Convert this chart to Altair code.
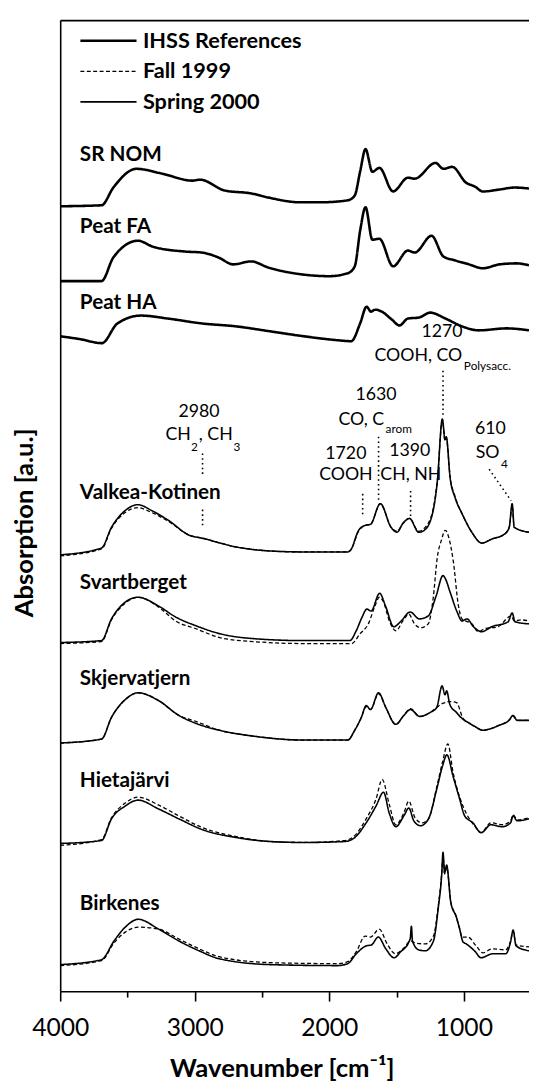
import altair as alt
import pandas as pd

# ---------------- data ----------------
X_DOMAIN = [516, 4000]          # wavenumber range shown (cm^-1)
Y_DOMAIN = [0, 986]             # stacked absorption, arbitrary units

series_names = ["IHSS References", "Fall 1999", "Spring 2000"]

sample_names = ["SR NOM", "Peat FA", "Peat HA", "Valkea-Kotinen",
                "Svartberget", "Skjervatjern", "Hietajärvi", "Birkenes"]
sample_offsets = [797, 721, 658, 443, 353, 252, 150, 27]
label_y = [843, 770, 693, 500, 408, 311, 207, 82]
label_wn = 3854

# IHSS references
srnom_wn = [4000, 3693, 3605, 3434, 3239, 3019, 2961, 2778, 2580, 2458, 2214, 2068, 1863, 1811, 1770,
            1731, 1680, 1628, 1526, 1416, 1365, 1211, 1152, 1087, 984, 918, 860, 735, 625, 516]
srnom_val = [0, 1, 19, 38, 33, 26, 27, 16, 13, 9, 4, 4, 6, 11, 36,
             58, 35, 39, 15, 29, 28, 44, 38, 40, 24, 20, 15, 17, 19, 18]

peatfa_wn = [4000, 3693, 3605, 3422, 3312, 3070, 2946, 2824, 2714, 2580, 2458, 2214, 2000, 1863, 1811,
             1770, 1731, 1680, 1628, 1526, 1416, 1365, 1240, 1152, 1065, 962, 860, 735, 610, 516]
peatfa_val = [0, 0, 24, 41, 35, 30, 29, 24, 17, 20, 14, 7, 5, 8, 15,
              52, 75, 42, 43, 15, 31, 29, 46, 25, 21, 17, 13, 17, 18, 16]

peatha_wn = [4000, 3850, 3690, 3575, 3400, 3200, 2946, 2690, 2440, 2190, 1940, 1837, 1771, 1723,
             1690, 1660, 1610, 1536, 1478, 1416, 1335, 1250, 1137, 1013, 889, 684, 516]
peatha_val = [7, 4, 0, 20, 28, 25, 20, 17, 12, 7, 3, 2, 20, 37,
              32, 34, 32, 24, 18, 25, 26, 31, 25, 17, 13, 15, 13]

# Valkea-Kotinen
valk_wn = [4000, 3693, 3619, 3517, 3422, 3320, 3195, 3041, 2946, 2690, 2440, 2190, 1863, 1841,
           1782, 1733, 1694, 1621, 1541, 1497, 1453, 1404, 1336, 1294, 1233, 1197, 1160, 1140,
           1131, 1102, 1065, 1014, 941, 867, 794, 699, 663, 641, 626, 516]
valk_spring = [0, 7, 28, 45, 51, 45, 35, 20, 17, 8, 4, 3, 3, 5,
               25, 30, 31, 52, 28, 23, 32, 37, 23, 25, 42, 75, 138, 117,
               120, 78, 58, 42, 23, 12, 16, 21, 28, 52, 28, 23]
valk_fall = [-1, 6, 27, 43, 48, 43, 34, 20, 17, 8, 4, 3, 3, 5,
             24, 30, 31, 52, 28, 24, 32, 37, 24, 27, 44, 76, 137, 116,
             119, 79, 59, 42, 23, 12, 16, 21, 28, 50, 28, 23]

# Svartberget
svart_spring_wn = [4000, 3693, 3619, 3517, 3422, 3268, 3143, 2990, 2814, 2565, 2190, 1848, 1800,
                   1756, 1721, 1690, 1626, 1582, 1521, 1472, 1399, 1331, 1265, 1207, 1155, 1138,
                   1102, 1050, 1014, 977, 928, 867, 794, 672, 641, 619, 516]
svart_spring = [1, 3, 25, 42, 47, 38, 27, 18, 10, 5, 3, 3, 13,
                27, 35, 33, 51, 38, 17, 22, 32, 25, 28, 48, 69, 66,
                52, 32, 23, 25, 17, 12, 17, 22, 31, 22, 20]
svart_fall_wn = [4000, 3693, 3619, 3517, 3422, 3268, 3143, 2990, 2814, 2565, 2190, 1834, 1771,
                 1710, 1661, 1629, 1600, 1551, 1505, 1453, 1409, 1367, 1321, 1265, 1229, 1197,
                 1167, 1138, 1109, 1080, 1040, 1014, 941, 892, 848, 748, 648, 626, 575, 516]
svart_fall = [0, 2, 24, 41, 47, 37, 23, 15, 6, 2, 0, 0, 10,
              20, 38, 47, 43, 22, 13, 23, 30, 20, 16, 20, 45, 88,
              105, 115, 106, 85, 38, 25, 20, 12, 15, 17, 28, 23, 24, 23]

# Skjervatjern
skj_wn = [4000, 3693, 3619, 3517, 3422, 3268, 3118, 2993, 2818, 2565, 2190, 1863, 1811, 1762,
          1726, 1694, 1634, 1580, 1506, 1446, 1397, 1329, 1251, 1202, 1162, 1140, 1128, 1104,
          1055, 1006, 970, 921, 860, 738, 665, 634, 604, 516]
skj_spring = [0, 4, 26, 44, 51, 43, 28, 20, 13, 7, 3, 3, 13, 26,
              38, 34, 51, 36, 19, 28, 34, 27, 31, 36, 58, 49, 53, 39,
              31, 24, 21, 17, 13, 18, 23, 28, 23, 23]
skj_fall = [0, 4, 26, 44, 51, 43, 28, 22, 13, 7, 3, 3, 13, 26,
            37, 34, 50, 36, 19, 28, 35, 27, 31, 36, 40, 41, 42, 42,
            41, 25, 21, 17, 13, 18, 23, 27, 23, 23]

# Hietajärvi
hie_spring_wn = [4000, 3693, 3619, 3517, 3422, 3268, 3118, 2942, 2690, 2440, 2190, 1885, 1811,
                 1726, 1653, 1597, 1555, 1506, 1446, 1409, 1372, 1323, 1263, 1202, 1160, 1126,
                 1080, 1031, 994, 933, 872, 799, 714, 653, 634, 604, 516]
hie_spring = [0, 3, 25, 38, 44, 35, 25, 14, 6, 2, 1, 2, 6,
              21, 38, 52, 31, 17, 28, 36, 23, 18, 25, 55, 78, 90,
              68, 45, 28, 21, 11, 19, 17, 21, 28, 23, 25]
hie_fall_wn = [4000, 3693, 3619, 3517, 3422, 3268, 3118, 2942, 2690, 2440, 2190, 1885, 1811,
               1726, 1653, 1607, 1555, 1506, 1446, 1409, 1363, 1314, 1263, 1202, 1160, 1119,
               1080, 1031, 980, 921, 872, 799, 714, 653, 634, 604, 516]
hie_fall = [-2, 4, 26, 41, 47, 39, 28, 16, 7, 2, 1, 3, 8,
            25, 45, 65, 40, 19, 31, 43, 26, 21, 25, 57, 82, 101,
            72, 47, 30, 18, 11, 21, 19, 23, 29, 24, 26]

# Birkenes
birk_spring_wn = [4000, 3693, 3600, 3517, 3420, 3268, 3118, 2968, 2818, 2440, 1940, 1863, 1800,
                  1726, 1687, 1636, 1580, 1519, 1470, 1409, 1398, 1390, 1382, 1336, 1287, 1226,
                  1190, 1165, 1155, 1143, 1128, 1097, 1055, 1031, 1006, 982, 921, 872, 787, 689,
                  653, 634, 612, 516]
birk_spring = [0, 5, 24, 38, 46, 36, 24, 14, 6, 0, -1, 1, 11,
               19, 20, 28, 16, 7, 13, 23, 27, 39, 24, 15, 14, 24,
               58, 91, 114, 93, 101, 63, 48, 36, 23, 21, 14, 7, 11, 11,
               23, 35, 19, 14]
birk_fall_wn = [4000, 3693, 3600, 3517, 3420, 3268, 3118, 2968, 2818, 2440, 1940, 1863, 1800,
                1733, 1694, 1629, 1570, 1509, 1446, 1397, 1360, 1287, 1226, 1190, 1165, 1155,
                1143, 1128, 1097, 1060, 1031, 1015, 970, 909, 860, 787, 689, 653, 634, 612, 516]
birk_fall = [-1, 4, 22, 33, 38, 36, 26, 16, 8, 2, 1, 3, 13,
             29, 28, 36, 21, 11, 17, 24, 22, 21, 29, 60, 92, 110,
             92, 99, 64, 50, 36, 28, 28, 19, 12, 16, 15, 24, 34, 20, 18]

# band annotations (wavenumber, a.u.)
ann_center_text = ["2980", "1720", "COOH", "1630", "1390", "CH, NH", "1270", "610"]
ann_center_wn = [2968, 1877, 1877, 1653, 1402, 1394, 1163, 803]
ann_center_y = [588, 545, 524, 605, 548, 524, 669, 571]

ann_right_text = ["CO, C", "COOH, CO"]
ann_right_wn = [1592, 1012]
ann_right_y = [580, 645]

ann_left_text = ["CH", ", CH", "SO"]
ann_left_wn = [3218, 2970, 912]
ann_left_y = [565, 565, 546]

ann_sub_text = ["2", "3", "arom", "Polysacc.", "4"]
ann_sub_wn = [3027, 2712, 1582, 1000, 724]
ann_sub_y = [553, 552, 571, 635, 535]

mark_wn1 = [2942, 2942, 1752, 1634, 1396, 1155, 812]
mark_wn2 = [2942, 2942, 1752, 1634, 1396, 1155, 649]
mark_y1 = [546, 489, 505, 563, 508, 630, 530]
mark_y2 = [523, 471, 481, 496, 481, 585, 498]

# ---------------- tables ----------------
spectra = [
    ("SR NOM", "IHSS References", srnom_wn, srnom_val),
    ("Peat FA", "IHSS References", peatfa_wn, peatfa_val),
    ("Peat HA", "IHSS References", peatha_wn, peatha_val),
    ("Valkea-Kotinen", "Fall 1999", valk_wn, valk_fall),
    ("Valkea-Kotinen", "Spring 2000", valk_wn, valk_spring),
    ("Svartberget", "Fall 1999", svart_fall_wn, svart_fall),
    ("Svartberget", "Spring 2000", svart_spring_wn, svart_spring),
    ("Skjervatjern", "Fall 1999", skj_wn, skj_fall),
    ("Skjervatjern", "Spring 2000", skj_wn, skj_spring),
    ("Hietajärvi", "Fall 1999", hie_fall_wn, hie_fall),
    ("Hietajärvi", "Spring 2000", hie_spring_wn, hie_spring),
    ("Birkenes", "Fall 1999", birk_fall_wn, birk_fall),
    ("Birkenes", "Spring 2000", birk_spring_wn, birk_spring),
]
offset_of = dict(zip(sample_names, sample_offsets))
rows = []
for k, (sample, series, wn, val) in enumerate(spectra):
    for w, v in zip(wn, val):
        rows.append({"trace": f"{k:02d} {sample} {series}", "sample": sample,
                     "series": series, "wn": w, "a": offset_of[sample] + v})
df = pd.DataFrame(rows)

labels_df = pd.DataFrame({"name": sample_names, "wn": [label_wn] * len(sample_names), "y": label_y})
center_df = pd.DataFrame({"t": ann_center_text, "wn": ann_center_wn, "y": ann_center_y})
right_df = pd.DataFrame({"t": ann_right_text, "wn": ann_right_wn, "y": ann_right_y})
left_df = pd.DataFrame({"t": ann_left_text, "wn": ann_left_wn, "y": ann_left_y})
sub_df = pd.DataFrame({"t": ann_sub_text, "wn": ann_sub_wn, "y": ann_sub_y})
marks_df = pd.DataFrame({"w1": mark_wn1, "w2": mark_wn2, "y1": mark_y1, "y2": mark_y2})

# ---------------- chart ----------------
FONT = "Lato"
xscale = alt.Scale(domain=X_DOMAIN, reverse=True, nice=False, zero=False)
yscale = alt.Scale(domain=Y_DOMAIN, nice=False, zero=False)

yaxis = alt.Axis(title="Absorption [a.u.]", labels=False, ticks=False, grid=False,
                 domainColor="black", domainWidth=1.6,
                 titleFont=FONT, titleFontSize=26, titleFontWeight="bold", titleColor="black",
                 titleAngle=270, titleX=-36, titleY=510, titleBaseline="middle", titleAlign="center")

xaxis = alt.Axis(title="Wavenumber [cm⁻¹]", values=[4000, 3500, 3000, 2500, 2000, 1500, 1000],
                 format="d", labelExpr="datum.value % 1000 === 0 ? datum.label : ''",
                 grid=False, domainColor="black", domainWidth=1.6,
                 tickColor="black", tickWidth=1.6,
                 tickSize={"condition": {"test": "datum.value % 1000 === 0", "value": 10}, "value": 6},
                 labelFont=FONT, labelFontSize=25, labelColor="black", labelPadding=15,
                 labelFlush=False, labelOverlap=False,
                 titleFont=FONT, titleFontSize=26, titleFontWeight="bold", titleColor="black",
                 titleX=225, titleY=87, titleBaseline="alphabetic", titleAlign="center")

topaxis = alt.Axis(orient="top", labels=False, ticks=False, title=None, grid=False,
                   domainColor="black", domainWidth=1.6)

legend = alt.Legend(title=None, orient="none", legendX=19, legendY=8, direction="vertical",
                    symbolType="stroke", symbolSize=3249, symbolStrokeColor="black",
                    clipHeight=26, rowPadding=5, labelOffset=5, padding=0, labelLimit=400,
                    labelFont=FONT, labelFontSize=22, labelFontWeight="bold", labelColor="black")

lines = alt.Chart(df).mark_line(color="black", interpolate="monotone", strokeJoin="round").encode(
    x=alt.X("wn:Q", scale=xscale, axis=xaxis),
    y=alt.Y("a:Q", scale=yscale, axis=yaxis),
    detail="trace:N",
    strokeDash=alt.StrokeDash("series:N", legend=legend,
                              scale=alt.Scale(domain=series_names, range=[[1, 0], [4, 2.5], [1, 0]])),
    strokeWidth=alt.StrokeWidth("series:N", legend=legend,
                                scale=alt.Scale(type="ordinal", domain=series_names, range=[2.6, 1.3, 1.6])),
)

rules = alt.Chart(marks_df).mark_rule(color="black", strokeDash=[1.6, 3.2], strokeWidth=1.6).encode(
    x=alt.X("w1:Q", scale=xscale, axis=topaxis),
    x2="w2:Q",
    y=alt.Y("y1:Q", scale=yscale, axis=yaxis),
    y2="y2:Q",
)

def text_layer(data, align, size, weight="normal", field="t"):
    return alt.Chart(data).mark_text(align=align, baseline="middle", font=FONT, fontSize=size,
                                     fontWeight=weight, color="black").encode(
        x=alt.X("wn:Q", scale=xscale, axis=None),
        y=alt.Y("y:Q", scale=yscale, axis=yaxis),
        text=f"{field}:N",
    )

t_center = text_layer(center_df, "center", 18)
t_right = text_layer(right_df, "right", 18)
t_left = text_layer(left_df, "left", 18)
t_sub = text_layer(sub_df, "left", 12)

names = alt.Chart(labels_df).mark_text(align="left", baseline="alphabetic", font=FONT, fontSize=21,
                                       fontWeight="bold", color="black").encode(
    x=alt.X("wn:Q", scale=xscale, axis=None),
    y=alt.Y("y:Q", scale=yscale, axis=yaxis),
    text="name:N",
)

chart = alt.layer(lines, rules, t_center, t_right, t_left, t_sub, names).resolve_axis(
    x="independent"
).properties(
    width=476, height=986,
    autosize=alt.AutoSizeParams(type="none"),
    padding={"left": 53, "top": 4, "right": 0, "bottom": 91},
).configure_view(strokeWidth=0)

chart.save("out.html", embed_options={"renderer": "svg", "actions": False})
